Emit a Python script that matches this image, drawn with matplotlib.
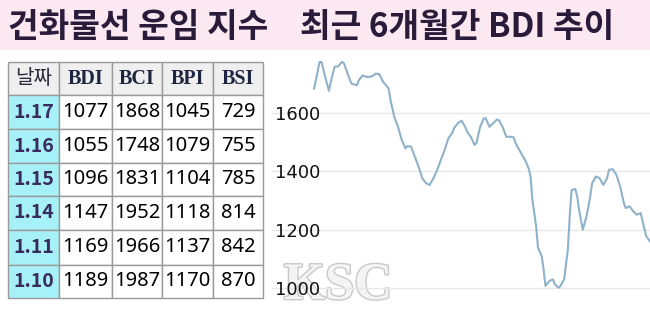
import matplotlib
matplotlib.use("Agg")
import matplotlib.pyplot as plt
from matplotlib.patches import Rectangle
import matplotlib.patheffects as pe

# ---------------- data ----------------
title_left = "건화물선 운임 지수"
title_right = "최근 6개월간 BDI 추이"

table_header = ["날짜", "BDI", "BCI", "BPI", "BSI"]
dates = ["1.17", "1.16", "1.15", "1.14", "1.11", "1.10"]
bdi = [1077, 1055, 1096, 1147, 1169, 1189]
bci = [1868, 1748, 1831, 1952, 1966, 1987]
bpi = [1045, 1079, 1104, 1118, 1137, 1170]
bsi = [729, 755, 785, 814, 842, 870]

days = [0, 1, 3, 4, 6, 8, 9, 11, 13, 15, 16, 18, 20, 23, 24, 26, 28, 30, 32, 33,
        35, 37, 40, 41, 43, 45, 47, 49, 50, 52, 54, 56, 58, 60, 62, 64, 66, 68, 70,
        72, 74, 75, 77, 79, 81, 82, 84, 86, 87, 89, 91, 92, 94, 96, 98, 99, 101,
        103, 105, 107, 108, 111, 113, 115, 116, 117, 119, 120, 122, 123, 124, 126,
        128, 129, 131, 132, 134, 136, 137, 138, 140, 141, 142, 144, 146, 148, 149,
        151, 153, 155, 157, 158, 160, 162, 164, 166, 167, 169, 171, 173, 175, 176,
        178, 180]
bdi_trend = [1683, 1711, 1774, 1774, 1723, 1675, 1706, 1757, 1759, 1774, 1770, 1734,
             1700, 1694, 1711, 1728, 1723, 1723, 1728, 1734, 1732, 1706, 1683, 1643,
             1586, 1552, 1507, 1478, 1486, 1484, 1450, 1416, 1376, 1359, 1353, 1376,
             1405, 1439, 1473, 1513, 1530, 1547, 1564, 1573, 1552, 1535, 1518, 1490,
             1496, 1552, 1581, 1581, 1552, 1564, 1577, 1575, 1552, 1518, 1518, 1516,
             1496, 1461, 1439, 1410, 1382, 1302, 1211, 1138, 1109, 1064, 1007, 1024,
             1030, 1013, 1001, 1007, 1030, 1132, 1246, 1336, 1339, 1314, 1268, 1200,
             1246, 1314, 1359, 1382, 1376, 1353, 1376, 1405, 1407, 1388, 1348, 1291,
             1274, 1280, 1263, 1251, 1257, 1229, 1177, 1160]
y_ticks = [1000, 1200, 1400, 1600]

# ---------------- figure ----------------
W, H = 650, 310
fig = plt.figure(figsize=(W / 100, H / 100), dpi=100)
fig.patch.set_facecolor("white")

bg = fig.add_axes([0, 0, 1, 1])
bg.set_xlim(0, W)
bg.set_ylim(H, 0)
bg.axis("off")

# pink title band
bg.add_patch(Rectangle((0, 0), W, 50, facecolor="#fbe8f1", edgecolor="none", zorder=0))
title_color = "#2a1b3a"
kfont = ["Noto Sans CJK KR", "DejaVu Sans"]
bg.text(8, 27, title_left, fontsize=24, fontweight="heavy", family=kfont,
        color=title_color, ha="left", va="center")
bg.text(300, 27, title_right, fontsize=24, fontweight="heavy", family=kfont,
        color=title_color, ha="left", va="center")

# ---------------- table ----------------
col_edges = [8, 59, 112, 162, 213, 263]
row_edges = [62, 95, 129, 163, 196, 230, 265, 298]
border = "#9a9a9a"
rows = list(zip(dates, bdi, bci, bpi, bsi))

for c in range(5):
    x0, x1 = col_edges[c], col_edges[c + 1]
    y0, y1 = row_edges[0], row_edges[1]
    bg.add_patch(Rectangle((x0, y0), x1 - x0, y1 - y0, facecolor="#efefef",
                           edgecolor=border, lw=1.0, zorder=2))
    if c == 0:
        bg.text((x0 + x1) / 2, (y0 + y1) / 2, table_header[c], fontsize=14.5,
                family=kfont, color="#2a2a3a", ha="center", va="center", zorder=3)
    else:
        bg.text((x0 + x1) / 2, (y0 + y1) / 2 + 1, table_header[c], fontsize=14.5,
                family="Liberation Serif", fontweight="bold", color="#1d2540",
                ha="center", va="center", zorder=3)

for r, row in enumerate(rows):
    y0, y1 = row_edges[r + 1], row_edges[r + 2]
    for c in range(5):
        x0, x1 = col_edges[c], col_edges[c + 1]
        fc = "#a6f1f7" if c == 0 else "white"
        bg.add_patch(Rectangle((x0, y0), x1 - x0, y1 - y0, facecolor=fc,
                               edgecolor=border, lw=1.0, zorder=2))
        if c == 0:
            bg.text((x0 + x1) / 2, (y0 + y1) / 2, row[c], fontsize=14,
                    family=kfont, fontweight="bold", color="#3a2b5e",
                    ha="center", va="center", zorder=3)
        else:
            bg.text((x0 + x1) / 2, (y0 + y1) / 2, str(row[c]), fontsize=14.5,
                    family="Noto Sans", color="#000000",
                    ha="center", va="center", zorder=3)

# ---------------- line chart ----------------
ax_left, ax_top = 272, 52
ax = fig.add_axes([ax_left / W, 0, (W - ax_left) / W, (H - ax_top) / H])
ax.set_facecolor("none")
ax.plot(days, bdi_trend, color="#8fb2cb", lw=1.5, zorder=3,
        solid_joinstyle="round")
ax.set_xlim(-22.5, 180)
ax.set_ylim(925, 1808)
ax.set_yticks(y_ticks)
ax.set_yticklabels([str(v) for v in y_ticks])
ax.grid(axis="y", color="#e7e7e7", lw=1.0, zorder=0)
ax.set_xticks([])
for s in ax.spines.values():
    s.set_visible(False)
ax.tick_params(axis="y", length=0, pad=-2, labelsize=13, labelcolor="#111111")
for lbl in ax.get_yticklabels():
    lbl.set_horizontalalignment("left")
    lbl.set_family("DejaVu Sans")

# watermark
bg.add_patch(Rectangle((270, 262), 130, 46, facecolor="white", alpha=0.55,
                       edgecolor="none", zorder=4))
bg.text(338, 286, "KSC", fontsize=38, family="Liberation Serif", fontweight="bold",
        color="#f4f4f4", ha="center", va="center", zorder=5,
        path_effects=[pe.withStroke(linewidth=2, foreground="#c9c9c9")])

fig.savefig("out.png", dpi=100)
